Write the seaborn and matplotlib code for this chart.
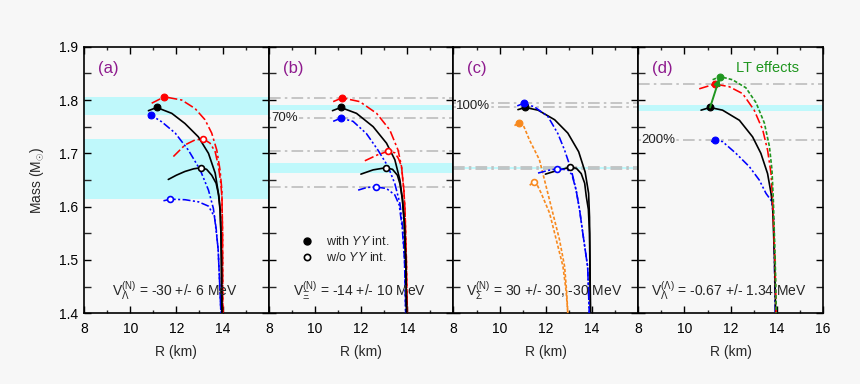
import numpy as np
import pandas as pd
import matplotlib
matplotlib.use("Agg")
import matplotlib.pyplot as plt
import seaborn as sns
from matplotlib.lines import Line2D
from matplotlib.ticker import MultipleLocator

sns.set_theme(style="ticks")
plt.rcParams['font.family'] = ['Liberation Sans', 'DejaVu Sans']
plt.rcParams['mathtext.fontset'] = 'custom'
plt.rcParams['mathtext.rm'] = 'Liberation Sans'
plt.rcParams['mathtext.it'] = 'Liberation Sans:italic'
plt.rcParams['mathtext.bf'] = 'Liberation Sans:bold'

# ---------------- data (R in km, M in solar masses) ----------------
# panel (a)
A_BLACK_R = [10.79, 11.15, 11.80, 12.37, 12.95, 13.39, 13.68, 13.82, 13.89, 13.93, 13.95, 13.96, 13.97]
A_BLACK_M = [1.780, 1.786, 1.775, 1.756, 1.731, 1.700, 1.663, 1.625, 1.594, 1.550, 1.500, 1.450, 1.400]
A_BLACK0_R = [11.65, 12.00, 12.37, 12.75, 13.07, 13.31, 13.53, 13.72, 13.84, 13.90, 13.93, 13.95, 13.97]
A_BLACK0_M = [1.651, 1.659, 1.666, 1.671, 1.673, 1.670, 1.659, 1.644, 1.620, 1.594, 1.550, 1.500, 1.400]
A_RED_R = [10.93, 11.48, 12.23, 12.81, 13.24, 13.53, 13.75, 13.89, 13.97, 14.00, 14.01]
A_RED_M = [1.794, 1.806, 1.800, 1.784, 1.763, 1.738, 1.706, 1.669, 1.631, 1.550, 1.400]
A_RED0_R = [11.87, 12.38, 12.80, 13.17, 13.46, 13.68, 13.82, 13.92, 13.97, 14.00, 14.01]
A_RED0_M = [1.694, 1.716, 1.725, 1.727, 1.719, 1.703, 1.676, 1.645, 1.620, 1.550, 1.400]
A_BLUE_R = [10.80, 10.89, 11.37, 11.95, 12.52, 13.03, 13.39, 13.60, 13.72, 13.81, 13.87, 13.93]
A_BLUE_M = [1.766, 1.772, 1.759, 1.738, 1.706, 1.669, 1.631, 1.597, 1.560, 1.519, 1.460, 1.400]
A_BLUE0_R = [11.44, 11.74, 12.38, 12.96, 13.39, 13.65, 13.75, 13.81, 13.87, 13.93]
A_BLUE0_M = [1.611, 1.614, 1.613, 1.609, 1.601, 1.581, 1.544, 1.519, 1.460, 1.400]
A_BANDS = [(1.771, 1.806), (1.614, 1.726)]

# panel (b)
B_RED_R = [10.79, 11.18, 11.94, 12.67, 13.24, 13.60, 13.75, 13.85, 13.90, 13.96, 14.00]
B_RED_M = [1.797, 1.804, 1.797, 1.775, 1.744, 1.706, 1.675, 1.631, 1.594, 1.500, 1.400]
B_RED0_R = [12.16, 12.70, 13.17, 13.46, 13.62, 13.75, 13.85, 13.90, 13.96, 14.00]
B_RED0_M = [1.686, 1.697, 1.704, 1.701, 1.690, 1.675, 1.631, 1.594, 1.500, 1.400]
B_BLACK_R = [10.76, 11.12, 11.80, 12.52, 13.10, 13.46, 13.68, 13.79, 13.87, 13.93, 13.97]
B_BLACK_M = [1.780, 1.786, 1.775, 1.750, 1.719, 1.688, 1.650, 1.613, 1.570, 1.500, 1.400]
B_BLACK0_R = [11.99, 12.52, 13.07, 13.36, 13.57, 13.68, 13.79, 13.87, 13.93, 13.97]
B_BLACK0_M = [1.661, 1.669, 1.673, 1.670, 1.659, 1.643, 1.613, 1.570, 1.500, 1.400]
B_BLUE_R = [10.79, 11.12, 11.65, 12.23, 12.73, 13.17, 13.46, 13.68, 13.80, 13.88, 13.93]
B_BLUE_M = [1.760, 1.766, 1.760, 1.737, 1.706, 1.675, 1.643, 1.606, 1.560, 1.500, 1.400]
B_BLUE0_R = [11.87, 12.25, 12.64, 13.10, 13.46, 13.65, 13.78, 13.88, 13.93]
B_BLUE0_M = [1.631, 1.636, 1.637, 1.634, 1.622, 1.603, 1.560, 1.500, 1.400]
B_BANDS = [(1.781, 1.791), (1.664, 1.682)]

# panel (c)
C_BLACK_R = [10.79, 11.11, 11.66, 12.38, 12.95, 13.42, 13.70, 13.85, 13.89, 13.91, 13.93]
C_BLACK_M = [1.782, 1.786, 1.781, 1.763, 1.738, 1.703, 1.665, 1.625, 1.580, 1.500, 1.400]
C_BLACK0_R = [11.98, 12.50, 13.05, 13.32, 13.53, 13.68, 13.75, 13.84, 13.89, 13.93]
C_BLACK0_M = [1.661, 1.668, 1.674, 1.672, 1.662, 1.644, 1.619, 1.595, 1.550, 1.400]
C_BLUE_R = [10.76, 11.05, 11.51, 12.09, 12.52, 12.81, 13.10, 13.31, 13.46, 13.60, 13.81, 13.88]
C_BLUE_M = [1.789, 1.794, 1.787, 1.769, 1.737, 1.706, 1.669, 1.631, 1.594, 1.550, 1.487, 1.400]
C_BLUE0_R = [11.66, 12.10, 12.49, 12.95, 13.13, 13.31, 13.46, 13.60, 13.81, 13.88]
C_BLUE0_M = [1.663, 1.668, 1.671, 1.669, 1.660, 1.631, 1.594, 1.550, 1.487, 1.400]
C_ORANGE_R = [10.64, 10.82, 11.05, 11.29, 11.72, 12.01, 12.30, 12.59, 12.81, 12.90, 12.95]
C_ORANGE_M = [1.752, 1.757, 1.750, 1.725, 1.688, 1.638, 1.588, 1.538, 1.488, 1.440, 1.400]
C_ORANGE0_R = [11.30, 11.47, 11.62, 11.80, 12.16, 12.45, 12.74, 12.88, 12.95]
C_ORANGE0_M = [1.640, 1.647, 1.641, 1.625, 1.588, 1.538, 1.488, 1.440, 1.400]
C_BANDS = [(1.6705, 1.6745)]

# panel (d)
D_BLACK_R = [10.72, 11.11, 11.65, 12.38, 12.95, 13.31, 13.60, 13.75, 13.82, 13.90, 13.95]
D_BLACK_M = [1.781, 1.786, 1.781, 1.762, 1.731, 1.700, 1.662, 1.625, 1.600, 1.500, 1.400]
D_RED_R = [10.64, 11.32, 11.94, 12.52, 13.02, 13.39, 13.60, 13.75, 13.82, 13.92, 13.97]
D_RED_M = [1.821, 1.830, 1.825, 1.812, 1.781, 1.744, 1.706, 1.662, 1.612, 1.500, 1.400]
D_GREEN_R = [11.22, 11.54, 12.08, 12.66, 13.10, 13.46, 13.68, 13.79, 13.85, 13.93, 13.98]
D_GREEN_M = [1.838, 1.844, 1.838, 1.823, 1.795, 1.757, 1.713, 1.669, 1.612, 1.500, 1.400]
D_BLUE_R = [11.15, 11.34, 11.65, 12.23, 12.81, 13.24, 13.53, 13.78, 13.87, 13.93]
D_BLUE_M = [1.722, 1.725, 1.722, 1.700, 1.675, 1.650, 1.625, 1.610, 1.575, 1.400]
D_BANDS = [(1.779, 1.791)]

PANEL_LABELS = ["(a)", "(b)", "(c)", "(d)"]
POT_TEXTS = [r"$\mathrm{V}_{\Lambda}^{(\mathrm{N})}$ = -30 +/- 6 MeV",
             r"$\mathrm{V}_{\Xi}^{(\mathrm{N})}$ = -14 +/- 10 MeV",
             r"$\mathrm{V}_{\Sigma}^{(\mathrm{N})}$ = 30 +/- 30, -30 MeV",
             r"$\mathrm{V}_{\Lambda}^{(\Lambda)}$ = -0.67 +/- 1.34 MeV"]
X_TICKS = [8, 10, 12, 14, 16]
Y_TICKS = [1.4, 1.5, 1.6, 1.7, 1.8, 1.9]

# ---------------- style ----------------
BG = '#f7f7f7'
CYAN = '#bff8fb'
GRID = '#bdbdbd'
PURPLE = '#8e1b8e'
GREEN = '#1f961f'
ORANGE = '#f7891e'
STY = {
    'black': dict(color='black', linestyle='-', lw=1.2),
    'red': dict(color='#ff0000', linestyle=(0, (6, 1.8, 1.5, 1.8)), lw=1.15),
    'blue': dict(color='#0000ff', linestyle=(0, (5, 1.5, 1.3, 1.5, 1.3, 1.5)), lw=1.15),
    'orange': dict(color=ORANGE, linestyle=(0, (2, 1.2)), lw=1.2),
    'green': dict(color=GREEN, linestyle=(0, (2.2, 1.2)), lw=1.2),
}

fig, axes = plt.subplots(1, 4, figsize=(8.6, 3.84), dpi=100, sharey=True)
fig.subplots_adjust(left=84/860, right=823/860, top=1-46.7/384, bottom=1-313.3/384, wspace=0)
fig.patch.set_facecolor(BG)


def curve(ax, R, M, key, filled, z=3):
    st = STY[key]
    df = pd.DataFrame({'R': R, 'M': M})
    sns.lineplot(data=df, x='R', y='M', sort=False, estimator=None, ax=ax,
                 color=st['color'], linestyle=st['linestyle'], lw=st['lw'], zorder=z)
    i = int(np.argmax(M))
    if filled:
        sns.scatterplot(x=[R[i]], y=[M[i]], ax=ax, s=24, color=st['color'],
                        edgecolor=st['color'], linewidth=0.8, zorder=6)
    else:
        sns.scatterplot(x=[R[i]], y=[M[i]], ax=ax, s=18, color='white',
                        edgecolor=st['color'], linewidth=1.2, zorder=6)
    return R[i], M[i]


def bands(ax, blist):
    for lo, hi in blist:
        ax.axhspan(lo, hi, color=CYAN, lw=0, zorder=0)


def hline(ax, y):
    ax.axhline(y, color=GRID, lw=1.2, linestyle=(0, (7, 2.5, 1.5, 2.5)), zorder=1)


def pct(ax, y, s):
    ax.text(8.12, y, s, fontsize=9.5, color='#222222', va='center', ha='left', zorder=2,
            bbox=dict(facecolor=BG, edgecolor='none', pad=0.3))


# panel a
ax = axes[0]
bands(ax, A_BANDS)
curve(ax, A_BLUE_R, A_BLUE_M, 'blue', True)
curve(ax, A_BLUE0_R, A_BLUE0_M, 'blue', False)
curve(ax, A_RED_R, A_RED_M, 'red', True)
curve(ax, A_RED0_R, A_RED0_M, 'red', False)
curve(ax, A_BLACK_R, A_BLACK_M, 'black', True, z=4)
curve(ax, A_BLACK0_R, A_BLACK0_M, 'black', False, z=4)

# panel b
ax = axes[1]
bands(ax, B_BANDS)
for R, M in [(B_RED_R, B_RED_M), (B_BLUE_R, B_BLUE_M), (B_RED0_R, B_RED0_M), (B_BLUE0_R, B_BLUE0_M)]:
    hline(ax, max(M))
pct(ax, max(B_BLUE_M), "70%")
curve(ax, B_BLUE_R, B_BLUE_M, 'blue', True)
curve(ax, B_BLUE0_R, B_BLUE0_M, 'blue', False)
curve(ax, B_RED_R, B_RED_M, 'red', True)
curve(ax, B_RED0_R, B_RED0_M, 'red', False)
curve(ax, B_BLACK_R, B_BLACK_M, 'black', True, z=4)
curve(ax, B_BLACK0_R, B_BLACK0_M, 'black', False, z=4)
handles = [Line2D([], [], marker='o', ls='none', color='black', markersize=5),
           Line2D([], [], marker='o', ls='none', markerfacecolor='white', markeredgecolor='black',
                  markersize=4.5, markeredgewidth=1.2)]
ax.legend(handles=handles, labels=[r"with $\mathit{YY}$ int.", r"w/o $\mathit{YY}$ int."],
          loc='center left', bbox_to_anchor=(0.175, 0.238), frameon=False, fontsize=9,
          handlelength=1.0, handletextpad=1.0, borderpad=0, borderaxespad=0, labelspacing=0.25)

# panel c
ax = axes[2]
bands(ax, C_BANDS)
for R, M in [(C_BLUE_R, C_BLUE_M), (C_BLACK_R, C_BLACK_M), (C_BLUE0_R, C_BLUE0_M), (C_BLACK0_R, C_BLACK0_M)]:
    hline(ax, max(M))
pct(ax, max(C_BLACK_M) + 0.003, "100%")
curve(ax, C_ORANGE_R, C_ORANGE_M, 'orange', True)
curve(ax, C_ORANGE0_R, C_ORANGE0_M, 'orange', False)
curve(ax, C_BLACK_R, C_BLACK_M, 'black', True, z=3)
curve(ax, C_BLACK0_R, C_BLACK0_M, 'black', False, z=3)
curve(ax, C_BLUE_R, C_BLUE_M, 'blue', True, z=4)
curve(ax, C_BLUE0_R, C_BLUE0_M, 'blue', False, z=4)

# panel d
ax = axes[3]
bands(ax, D_BANDS)
for R, M in [(D_RED_R, D_RED_M), (D_BLUE_R, D_BLUE_M)]:
    hline(ax, max(M))
pct(ax, max(D_BLUE_M), "200%")
curve(ax, D_BLUE_R, D_BLUE_M, 'blue', True)
rb, mb = curve(ax, D_BLACK_R, D_BLACK_M, 'black', True)
curve(ax, D_RED_R, D_RED_M, 'red', True, z=4)
rg, mg = curve(ax, D_GREEN_R, D_GREEN_M, 'green', True, z=4)
ax.annotate('', xy=(rg, mg), xytext=(rb, mb), zorder=7,
            arrowprops=dict(arrowstyle='-|>', color=GREEN, lw=1.4, shrinkA=0, shrinkB=1.5,
                            mutation_scale=9))
ax.text(0.53, 0.921, "LT effects", transform=ax.transAxes, color=GREEN, fontsize=10.5,
        ha='left', va='center')

# common axes styling
for k, ax in enumerate(axes):
    ax.set_facecolor(BG)
    ax.set_xlim(8, 16)
    ax.set_ylim(1.4, 1.9)
    ax.set_xticks(X_TICKS)
    ax.set_xticklabels([str(t) if (t != 16 or k == 3) else '' for t in X_TICKS])
    ax.xaxis.set_minor_locator(MultipleLocator(1))
    ax.set_yticks(Y_TICKS)
    ax.yaxis.set_minor_locator(MultipleLocator(0.05))
    ax.tick_params(which='major', direction='in', length=5, width=1.0, top=True, right=True,
                   labelsize=10, colors='black')
    ax.tick_params(axis='x', which='major', pad=6.5)
    ax.tick_params(axis='y', which='major', pad=4.5)
    ax.tick_params(axis='x', which='minor', direction='in', length=2.5, width=1.0, top=True)
    ax.tick_params(axis='y', which='minor', direction='in', length=5, width=1.0, right=True, left=True)
    for sp in ax.spines.values():
        sp.set_linewidth(1.2)
        sp.set_color('black')
        sp.set_visible(True)
    ax.set_xlabel("R (km)", fontsize=10, labelpad=6)
    ax.set_ylabel("")
    ax.text(0.075, 0.92, PANEL_LABELS[k], transform=ax.transAxes, color=PURPLE, fontsize=12,
            ha='left', va='center')
    ax.text(0.49, 0.083, POT_TEXTS[k], transform=ax.transAxes, fontsize=10, ha='center',
            va='center', zorder=8)
    if k > 0:
        ax.tick_params(axis='y', labelleft=False)

axes[0].set_ylabel(r"Mass (M$_{\odot}$)", fontsize=10, labelpad=9)

fig.savefig("out.png", dpi=100, facecolor=BG)
